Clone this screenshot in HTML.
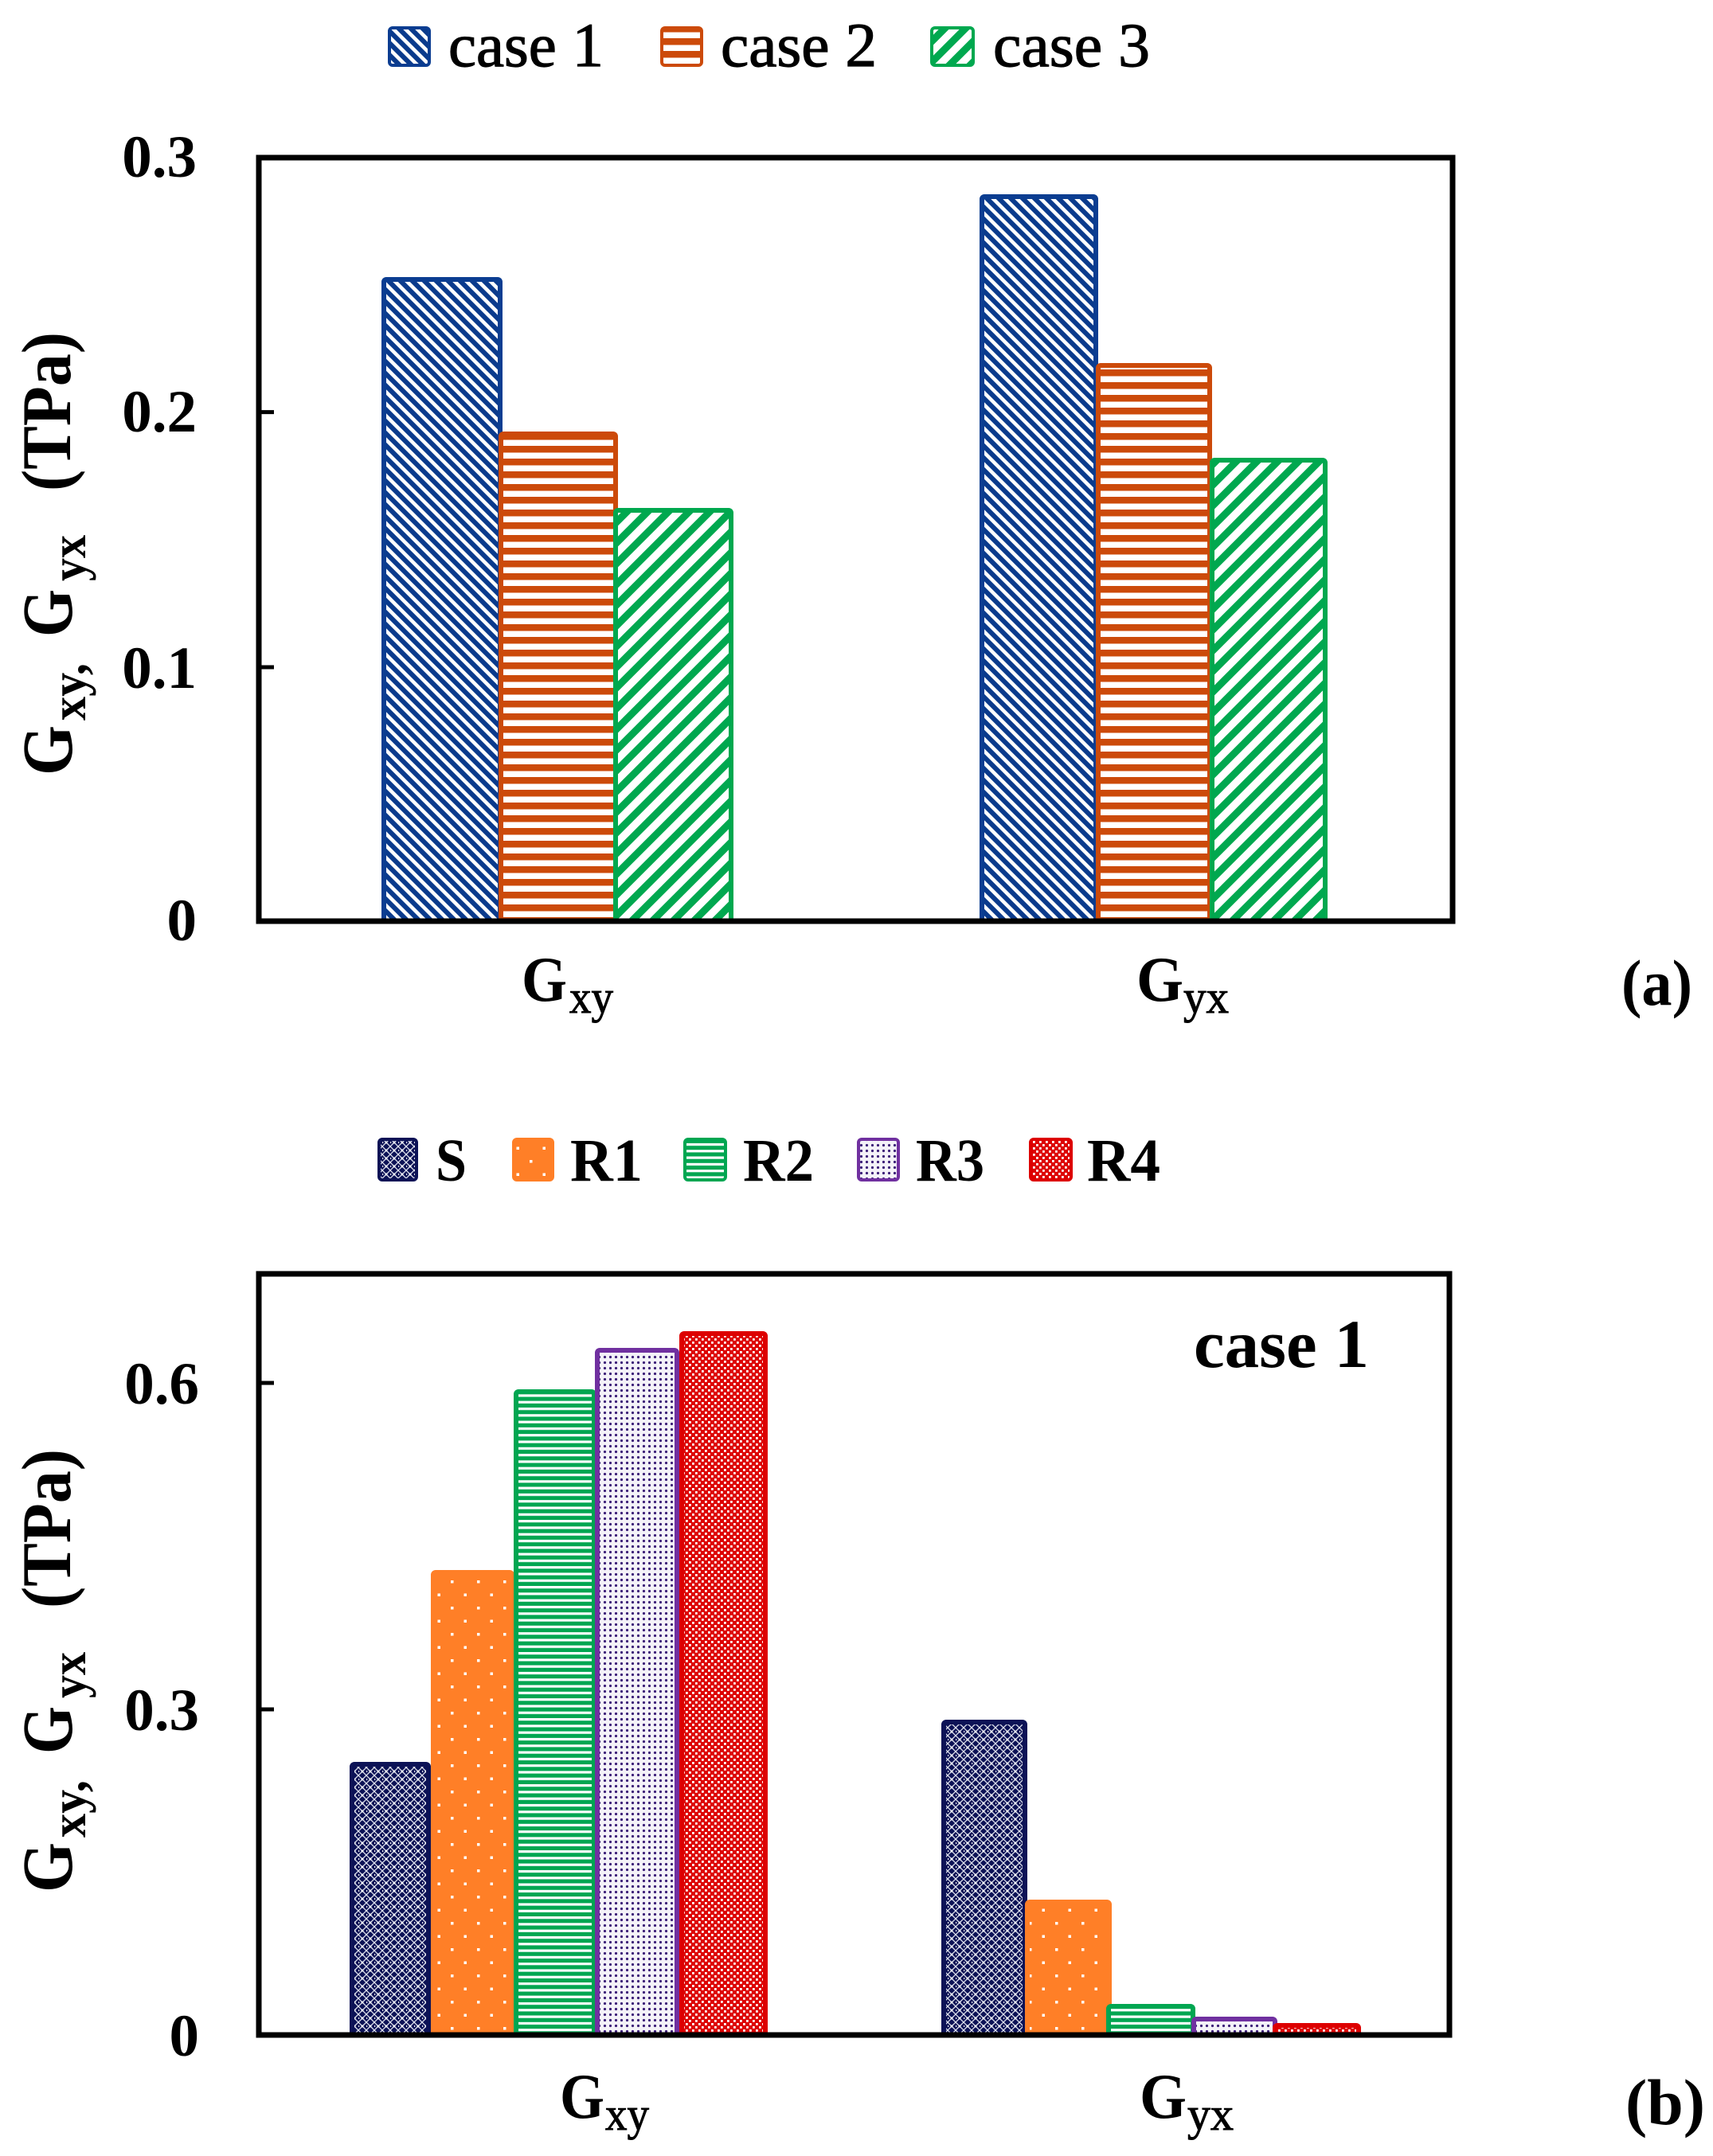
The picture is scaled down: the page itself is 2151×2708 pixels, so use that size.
<!DOCTYPE html>
<html>
<head>
<meta charset="utf-8">
<style>
  html,body{margin:0;padding:0;background:#fff;}
  svg{display:block;}
  text{font-family:"Liberation Serif","DejaVu Serif",serif;fill:#000;}
</style>
</head>
<body>
<svg width="2151" height="2708" viewBox="0 0 2151 2708" xmlns="http://www.w3.org/2000/svg" font-family="'Liberation Serif', 'DejaVu Serif', serif">
<defs>
  <pattern id="p1" width="15" height="15" patternUnits="userSpaceOnUse">
    <rect width="15" height="15" fill="#fff"/>
    <path d="M-5,-5 L20,20 M-5,10 L5,20 M10,-5 L20,5" stroke="#0a3a8c" stroke-width="6"/>
  </pattern>
  <pattern id="p2" width="16" height="16" patternUnits="userSpaceOnUse">
    <rect width="16" height="16" fill="#fff"/>
    <rect y="0" width="16" height="8.5" fill="#cc4a0a"/>
  </pattern>
  <pattern id="p3" width="26" height="26" patternUnits="userSpaceOnUse">
    <rect width="26" height="26" fill="#fff"/>
    <path d="M-6,6 L6,-6 M-6,32 L32,-6 M20,32 L32,20" stroke="#00a84f" stroke-width="9"/>
  </pattern>
  <pattern id="pS" width="10" height="10" patternUnits="userSpaceOnUse">
    <rect width="10" height="10" fill="#0c1256"/>
    <path d="M0,0 L10,10 M10,0 L0,10" stroke="#dfe2ee" stroke-width="1.3"/>
    <circle cx="5" cy="5" r="1.5" fill="#fff"/>
    <rect x="0" y="4" width="1.2" height="2" fill="#fff"/>
  </pattern>
  <pattern id="pR1" width="33" height="33" patternUnits="userSpaceOnUse">
    <rect width="33" height="33" fill="#ff7f27"/>
    <rect x="5" y="5" width="3.5" height="3.5" fill="#fff"/>
    <rect x="21.5" y="21.5" width="3.5" height="3.5" fill="#fff"/>
  </pattern>
  <pattern id="pR2" width="8.3" height="8.3" patternUnits="userSpaceOnUse">
    <rect width="8.3" height="8.3" fill="#00a651"/>
    <rect y="0" width="8.3" height="3.2" fill="#fff"/>
  </pattern>
  <pattern id="pR3" width="7" height="7" patternUnits="userSpaceOnUse">
    <rect width="7" height="7" fill="#f4f2f8"/>
    <circle cx="3.5" cy="3.5" r="1.6" fill="#3c1e78"/>
  </pattern>
  <pattern id="pR4" width="8" height="8" patternUnits="userSpaceOnUse">
    <rect width="8" height="8" fill="#dd0000"/>
    <rect x="1" y="1" width="2.8" height="2.8" fill="#fff"/>
    <rect x="5" y="5" width="2.8" height="2.8" fill="#fff"/>
  </pattern>
</defs>

<g font-family="'Liberation Serif', 'DejaVu Serif', serif">
<!-- ================= CHART (a) ================= -->
<rect x="489" y="35" width="50" height="47" rx="4" fill="url(#p1)" stroke="#0b3d91" stroke-width="4"/>
<text x="563" y="83" font-size="78" textLength="195" lengthAdjust="spacingAndGlyphs" stroke="#000" stroke-width="1.2">case 1</text>
<rect x="831" y="35" width="50" height="47" rx="4" fill="url(#p2)" stroke="#cc4a0a" stroke-width="4"/>
<text x="905" y="83" font-size="78" textLength="196" lengthAdjust="spacingAndGlyphs" stroke="#000" stroke-width="1.2">case 2</text>
<rect x="1170" y="35" width="52" height="47" rx="4" fill="url(#p3)" stroke="#00a84f" stroke-width="4"/>
<text x="1247" y="83" font-size="78" textLength="197" lengthAdjust="spacingAndGlyphs" stroke="#000" stroke-width="1.2">case 3</text>

<rect x="482" y="351" width="146" height="806" rx="3" fill="url(#p1)" stroke="#0b3d91" stroke-width="6"/>
<rect x="629" y="545" width="144" height="612" rx="3" fill="url(#p2)" stroke="#cc4a0a" stroke-width="6"/>
<rect x="773" y="641" width="145" height="516" rx="3" fill="url(#p3)" stroke="#00a84f" stroke-width="6"/>

<rect x="1233" y="247" width="143" height="910" rx="3" fill="url(#p1)" stroke="#0b3d91" stroke-width="6"/>
<rect x="1379" y="459" width="140" height="698" rx="3" fill="url(#p2)" stroke="#cc4a0a" stroke-width="6"/>
<rect x="1522" y="578" width="142" height="579" rx="3" fill="url(#p3)" stroke="#00a84f" stroke-width="6"/>

<rect x="325" y="198" width="1499" height="959" fill="none" stroke="#000" stroke-width="7"/>
<path d="M325,517.6 H344 M325,838 H344" stroke="#000" stroke-width="5"/>
<g font-size="75" font-weight="bold" text-anchor="end">
  <text x="247" y="222">0.3</text>
  <text x="247" y="542">0.2</text>
  <text x="247" y="864">0.1</text>
  <text x="247" y="1181">0</text>
</g>
<g font-weight="bold">
  <text transform="translate(90,974) rotate(-90)" font-size="90" textLength="63" lengthAdjust="spacingAndGlyphs">G</text>
  <text transform="translate(107,905) rotate(-90)" font-size="62" textLength="72" lengthAdjust="spacingAndGlyphs">xy,</text>
  <text transform="translate(90,800) rotate(-90)" font-size="90" textLength="60" lengthAdjust="spacingAndGlyphs">G</text>
  <text transform="translate(107,730) rotate(-90)" font-size="62" textLength="58" lengthAdjust="spacingAndGlyphs">yx</text>
  <text transform="translate(88,617) rotate(-90)" font-size="88" textLength="200" lengthAdjust="spacingAndGlyphs">(TPa)</text>
</g>
<text x="655" y="1257" font-size="80" font-weight="bold" textLength="57" lengthAdjust="spacingAndGlyphs">G</text>
<text x="715" y="1272" font-size="58" textLength="55" lengthAdjust="spacingAndGlyphs" stroke="#000" stroke-width="1">xy</text>
<text x="1427" y="1257" font-size="80" font-weight="bold" textLength="59" lengthAdjust="spacingAndGlyphs">G</text>
<text x="1486" y="1272" font-size="58" textLength="57" lengthAdjust="spacingAndGlyphs" stroke="#000" stroke-width="1">yx</text>
<text x="2036" y="1262" font-size="82" font-weight="bold" textLength="89" lengthAdjust="spacingAndGlyphs">(a)</text>

<!-- ================= CHART (b) ================= -->
<rect x="476" y="1431" width="47" height="51" rx="4" fill="url(#pS)" stroke="#0c1256" stroke-width="4"/>
<text x="547" y="1483" font-size="76" font-weight="bold" textLength="39" lengthAdjust="spacingAndGlyphs">S</text>
<rect x="645" y="1431" width="49" height="51" rx="4" fill="url(#pR1)" stroke="#ff7f27" stroke-width="4"/>
<text x="716" y="1483" font-size="76" font-weight="bold" textLength="91" lengthAdjust="spacingAndGlyphs">R1</text>
<rect x="860" y="1431" width="51" height="51" rx="4" fill="url(#pR2)" stroke="#00a651" stroke-width="4"/>
<text x="933" y="1483" font-size="76" font-weight="bold" textLength="89" lengthAdjust="spacingAndGlyphs">R2</text>
<rect x="1078" y="1431" width="50" height="51" rx="4" fill="url(#pR3)" stroke="#7030a0" stroke-width="4"/>
<text x="1150" y="1483" font-size="76" font-weight="bold" textLength="86" lengthAdjust="spacingAndGlyphs">R3</text>
<rect x="1294" y="1431" width="51" height="51" rx="4" fill="url(#pR4)" stroke="#dd0000" stroke-width="4"/>
<text x="1365" y="1483" font-size="76" font-weight="bold" textLength="92" lengthAdjust="spacingAndGlyphs">R4</text>

<rect x="442" y="2216" width="96" height="340" rx="3" fill="url(#pS)" stroke="#0c1256" stroke-width="6"/>
<rect x="544" y="1975" width="99" height="581" rx="3" fill="url(#pR1)" stroke="#ff7f27" stroke-width="6"/>
<rect x="648" y="1748" width="98" height="808" rx="3" fill="url(#pR2)" stroke="#00a651" stroke-width="6"/>
<rect x="750" y="1696" width="100" height="860" rx="3" fill="url(#pR3)" stroke="#7030a0" stroke-width="6"/>
<rect x="856" y="1675" width="105" height="881" rx="3" fill="url(#pR4)" stroke="#dd0000" stroke-width="6"/>
<rect x="1185" y="2163" width="102" height="393" rx="3" fill="url(#pS)" stroke="#0c1256" stroke-width="6"/>
<rect x="1290" y="2389" width="103" height="167" rx="3" fill="url(#pR1)" stroke="#ff7f27" stroke-width="6"/>
<rect x="1392" y="2520" width="106" height="36" rx="3" fill="url(#pR2)" stroke="#00a651" stroke-width="6"/>
<rect x="1499" y="2536" width="102" height="20" rx="3" fill="url(#pR3)" stroke="#7030a0" stroke-width="6"/>
<rect x="1601" y="2544" width="105" height="12" rx="3" fill="url(#pR4)" stroke="#dd0000" stroke-width="6"/>

<rect x="325" y="1600" width="1495" height="956" fill="none" stroke="#000" stroke-width="7"/>
<path d="M325,1737 H344 M325,2147 H344" stroke="#000" stroke-width="5"/>
<g font-size="75" font-weight="bold" text-anchor="end">
  <text x="250" y="1763">0.6</text>
  <text x="250" y="2173">0.3</text>
  <text x="250" y="2582">0</text>
</g>
<text x="1499" y="1717" font-size="86" font-weight="bold" textLength="220" lengthAdjust="spacingAndGlyphs">case 1</text>
<g font-weight="bold">
  <text transform="translate(90,2377) rotate(-90)" font-size="90" textLength="63" lengthAdjust="spacingAndGlyphs">G</text>
  <text transform="translate(107,2308) rotate(-90)" font-size="62" textLength="72" lengthAdjust="spacingAndGlyphs">xy,</text>
  <text transform="translate(90,2203) rotate(-90)" font-size="90" textLength="60" lengthAdjust="spacingAndGlyphs">G</text>
  <text transform="translate(107,2133) rotate(-90)" font-size="62" textLength="58" lengthAdjust="spacingAndGlyphs">yx</text>
  <text transform="translate(88,2020) rotate(-90)" font-size="88" textLength="200" lengthAdjust="spacingAndGlyphs">(TPa)</text>
</g>
<text x="703" y="2660" font-size="80" font-weight="bold" textLength="56" lengthAdjust="spacingAndGlyphs">G</text>
<text x="760" y="2675" font-size="58" textLength="55" lengthAdjust="spacingAndGlyphs" stroke="#000" stroke-width="1">xy</text>
<text x="1431" y="2660" font-size="80" font-weight="bold" textLength="59" lengthAdjust="spacingAndGlyphs">G</text>
<text x="1491" y="2675" font-size="58" textLength="58" lengthAdjust="spacingAndGlyphs" stroke="#000" stroke-width="1">yx</text>
<text x="2041" y="2668" font-size="82" font-weight="bold" textLength="100" lengthAdjust="spacingAndGlyphs">(b)</text>
</g>
</svg>
</body>
</html>
